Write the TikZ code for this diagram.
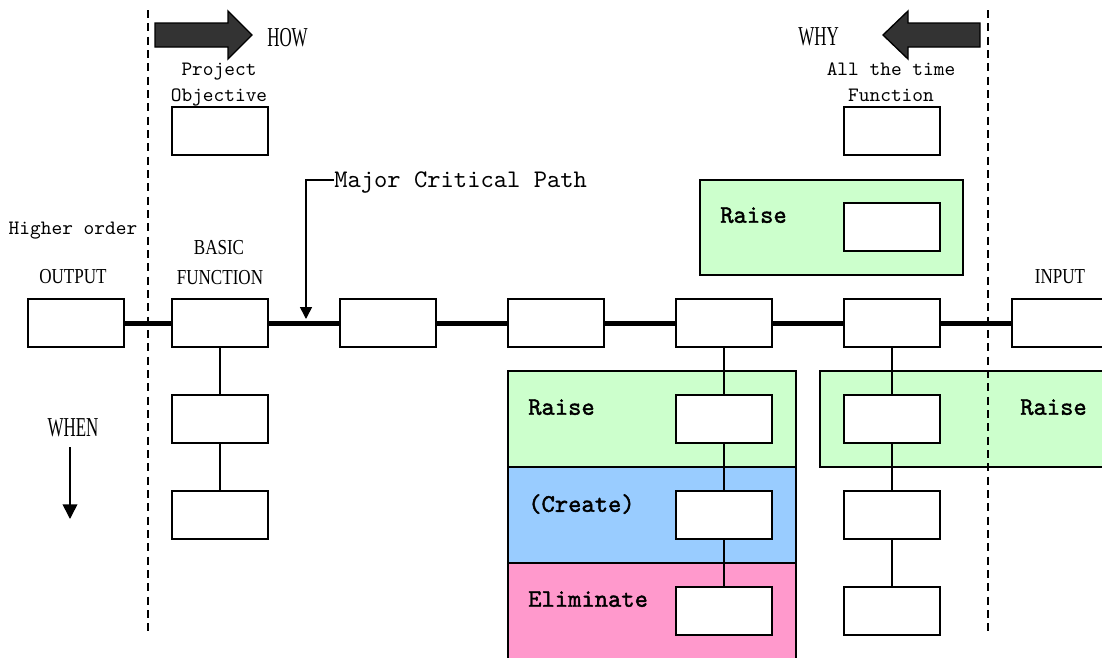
\documentclass[tikz,border=0pt]{standalone}
\usepackage{fontspec}
\setmainfont{Liberation Serif}
\newfontfamily\monof{lmmono10-regular.otf}
\newfontfamily\monob{lmmono10-regular.otf}[FakeBold=1.6]
\newfontfamily\condA{Liberation Serif}[FakeStretch=0.62]
\newfontfamily\condB{Liberation Serif}[FakeStretch=0.8]
\usetikzlibrary{arrows.meta}
\definecolor{pgreen}{HTML}{CCFFCC}
\definecolor{pblue}{HTML}{99CCFF}
\definecolor{ppink}{HTML}{FF99CC}
\definecolor{arrowgray}{HTML}{333333}
\begin{document}
\begin{tikzpicture}[x=0.75pt,y=-0.75pt,
  fbox/.style={draw, line width=1.2pt, fill=white, minimum width=72pt, minimum height=36pt, inner sep=0pt},
  panel/.style={draw, line width=1.2pt, inner sep=0pt, minimum width=216pt, minimum height=72pt},
  conn/.style={line width=1.2pt},
  mainline/.style={line width=3.75pt},
  guide/.style={line width=1.3pt, dash pattern=on 6pt off 4pt},
  lab/.style={inner sep=0pt, text depth=0pt, font=\monof\fontsize{15.3}{18}\selectfont},
  bigmono/.style={inner sep=0pt, text depth=0pt, font=\monof\fontsize{19}{22}\selectfont},
  raiselab/.style={inner sep=0pt, text depth=0pt, anchor=west, font=\monob\fontsize{19}{22}\selectfont},
  condlab/.style={inner sep=0pt, text depth=0pt, font=\condB\fontsize{16}{18}\selectfont},
  headlab/.style={inner sep=0pt, text depth=0pt, font=\condA\fontsize{20.5}{23}\selectfont},
  blockarrow/.style={draw, line width=1pt, fill=arrowgray},
  tri/.style={-{Triangle[width=9pt,length=9pt]}}
]
\clip (0,0) rectangle (1102,657);
\fill[white] (0,0) rectangle (1102,657);

% coloured panels
\node[panel, fill=pgreen, minimum width=197.25pt, minimum height=71.25pt] (gtop) at (831.5,227.5) {};
\node[panel, fill=pgreen] (g2) at (652,419) {};
\node[panel, fill=pblue] (b2) at (652,515) {};
\node[panel, fill=ppink] (p2) at (652,611) {};
\node[panel, fill=pgreen] (g3) at (964,419) {};

% boxes
\node[fbox] (proj) at (220,131) {};
\node[fbox] (allt) at (892,131) {};
\node[fbox] (rtop) at (892,227) {};

\node[fbox] (out) at (76,323) {};
\node[fbox] (bas) at (220,323) {};
\node[fbox] (m3) at (388,323) {};
\node[fbox] (m4) at (556,323) {};
\node[fbox] (m5) at (724,323) {};
\node[fbox] (m6) at (892,323) {};
\node[fbox] (inp) at (1060,323) {};

\node[fbox] (b1) at (220,419) {};
\node[fbox] (b2x) at (220,515) {};

\node[fbox] (c1) at (724,419) {};
\node[fbox] (c2) at (724,515) {};
\node[fbox] (c3) at (724,611) {};

\node[fbox] (d1) at (892,419) {};
\node[fbox] (d2) at (892,515) {};
\node[fbox] (d3) at (892,611) {};

% connectors
\draw[mainline] (out) -- (bas);
\draw[mainline] (bas) -- (m3);
\draw[mainline] (m3) -- (m4);
\draw[mainline] (m4) -- (m5);
\draw[mainline] (m5) -- (m6);
\draw[mainline] (m6) -- (inp);

\draw[conn] (bas) -- (b1);
\draw[conn] (b1) -- (b2x);
\draw[conn] (m5) -- (c1);
\draw[conn] (c1) -- (c2);
\draw[conn] (c2) -- (c3);
\draw[conn] (m6) -- (d1);
\draw[conn] (d1) -- (d2);
\draw[conn] (d2) -- (d3);

% guide lines
\draw[guide] (148,10) -- (148,635);
\draw[guide] (988,10) -- (988,635);

% block arrows
\draw[blockarrow] (155,23) -- (228,23) -- (228,11) -- (252,35) -- (228,59) -- (228,47) -- (155,47) -- cycle;
\draw[blockarrow] (980,23) -- (908,23) -- (908,11) -- (883,35) -- (908,59) -- (908,47) -- (980,47) -- cycle;

% labels
\node[headlab, anchor=west] (how) at (267,37) {HOW};
\node[headlab, anchor=east] (why) at (839,37) {WHY};
\node[lab] (pr1) at (219,69) {Project};
\node[lab] (pr2) at (219,95) {Objective};
\node[lab] (at1) at (891,69) {All the time};
\node[lab] (at2) at (891,95) {Function};
\node[lab] (hio) at (73,228) {Higher order};
\node[condlab] (outl) at (73,276) {OUTPUT};
\node[condlab] (basl) at (219,247) {BASIC};
\node[condlab] (funl) at (220,277) {FUNCTION};
\node[condlab] (inl) at (1060,277) {INPUT};
\node[headlab] (when) at (73,428) {WHEN};

\node[raiselab] (r1) at (720,215) {Raise};
\node[raiselab] (r2) at (528,407) {Raise};
\node[raiselab] (cr) at (528,503) {(Create)};
\node[raiselab] (el) at (528,599) {Eliminate};
\node[raiselab] (r3) at (1020,407) {Raise};

% major critical path
\node[bigmono, anchor=west] (mcp) at (334,180) {Major Critical Path};
\coordinate (mcptip) at (306,319);
\draw[conn, tri] (mcp.west) -| (mcptip);

% when arrow
\coordinate (whens) at (70,447);
\coordinate (whene) at (70,519);
\draw[conn, -{Triangle[width=11pt,length=11pt]}] (whens) -- (whene);
\end{tikzpicture}
\end{document}
